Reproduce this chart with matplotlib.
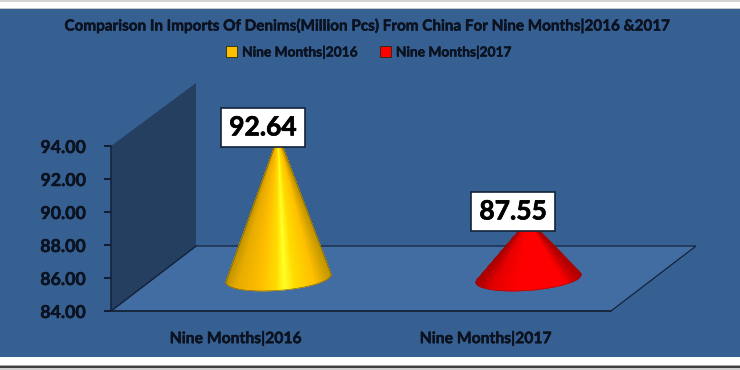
import numpy as np
import matplotlib
matplotlib.use("Agg")
import matplotlib.pyplot as plt
import matplotlib.patheffects as pe
from matplotlib.collections import PolyCollection
from matplotlib.colors import LinearSegmentedColormap
from matplotlib.patches import Patch, Polygon, Rectangle

TITLE = "Comparison In Imports Of Denims(Million Pcs) From China For Nine Months|2016 &2017"
categories = ["Nine Months|2016", "Nine Months|2017"]
values = [92.64, 87.55]
y_ticks = [84, 86, 88, 90, 92, 94]
colors = ["#FFC000", "#FF0000"]

W, H = 740, 370
plt.rcParams["font.family"] = ["Lato", "DejaVu Sans"]
plt.rcParams["font.weight"] = "bold"
INK = "#0B1220"
PANEL = "#376092"
THICK = [pe.withStroke(linewidth=0.35, foreground=INK)]

fig = plt.figure(figsize=(W / 100, H / 100), dpi=100, facecolor="white")
def band(y0, y1, color):
    fig.patches.append(Rectangle((0, 1 - y1 / H), 1, (y1 - y0) / H, transform=fig.transFigure,
                                 facecolor=color, edgecolor="none", zorder=-5))
band(0, 1.5, "#D4D4D4")
band(8, 9, "#C8C8C8")
band(9, 357, PANEL)
band(365, 366, "#A8A8A8")
band(366, 368, "#404040")
band(368, 370, "#D0D0D0")

ax = fig.add_axes([111 / W, 1 - 311 / H, 500 / W, 165 / H])
ax.patch.set_visible(False)
ax.set_xlim(0, 2)
ax.set_ylim(84, 94)
PX, PY = 2 / 500, 10 / 165
DX, DY = 85 * PX, 65 * PY

# floor and side wall
ax.add_patch(Polygon([(0, 84), (2, 84), (2 + DX, 84 + DY), (DX, 84 + DY)], closed=True, clip_on=False,
                     facecolor="#426DA3", edgecolor="#14233A", linewidth=0.9, zorder=1))
ax.add_patch(Polygon([(0, 84), (DX, 84 + DY), (DX, 94 + 63 * PY), (0, 94)], closed=True, clip_on=False,
                     facecolor="#243F60", edgecolor="none", zorder=1.5))
ax.plot([0, DX], [84, 84 + DY], color="#14233A", lw=0.9, zorder=1.6, clip_on=False)

maps = [
    LinearSegmentedColormap.from_list("y", [(0, "#C09400"), (0.1, "#E8AC00"), (0.32, "#FFBE00"), (0.48, "#FFDC00"),
                                            (0.56, "#FFFF28"), (0.66, "#FFDC00"), (0.85, "#FFC000"), (1, "#C49800")]),
    LinearSegmentedColormap.from_list("r", [(0, "#A80000"), (0.14, "#E40000"), (0.4, "#FF0000"), (0.85, "#FF0000"), (1, "#B00000")]),
]

t = np.linspace(-0.3, 2 * np.pi - 0.3, 481)
for i, (v, cmap) in enumerate(zip(values, maps)):
    cx = i + 0.5 + DX / 2
    cy = 84 + DY / 2
    apex = np.array([cx, v + DY / 2])
    # in the y-up data frame the near side of the base is sin(t) < 0
    ex = cx + 50 * PX * np.cos(t) + 16 * PX * np.sin(t)
    ey = cy + 12.5 * PY * np.sin(t)
    pts = np.column_stack([ex, ey])
    slope = ((ex - apex[0]) / PX) / ((apex[1] - ey) / PY)
    l, r = int(np.argmin(slope[:-1])), int(np.argmax(slope[:-1]))
    arc = np.arange(l, r + 1) if l < r else np.r_[l:len(t) - 1, 0:r + 1]
    tris = [[apex, pts[k], pts[k + 1]] for k in arc[:-1]]
    span = ex[arc[:-1]]
    shade = (span - span.min()) / (span.max() - span.min())
    fc = [cmap(s) for s in shade]
    ax.add_collection(PolyCollection(tris, facecolors=fc, edgecolors=fc, linewidths=0.5,
                                     zorder=3, clip_on=False))
    ol = np.vstack([apex, pts[arc], apex])
    ax.plot(ol[:, 0], ol[:, 1], color="#6A5418" if i == 0 else "#8A1818", lw=0.4, zorder=3.5, clip_on=False)
    ax.annotate(f"{v:.2f}", xy=(apex[0], apex[1]), xytext=(-15.5 * 0.72, 8.5 * 0.72), textcoords="offset points",
                ha="center", va="center", fontsize=19, color="#000000", zorder=6, annotation_clip=False,
                path_effects=[pe.withStroke(linewidth=0.5, foreground="#000000")],
                bbox=dict(boxstyle="square,pad=0.3", facecolor="white", edgecolor="#14233A", linewidth=1.2))

ax.set_xticks([0.5, 1.5], categories)
ax.set_yticks(y_ticks, [f"{y:.2f}" for y in y_ticks])
ax.tick_params(axis="x", length=0, pad=14.5, labelsize=11.3, labelcolor=INK)
ax.tick_params(axis="y", length=5, width=1.2, color=INK, pad=13, labelsize=12.8, labelcolor=INK)
for lab in ax.get_xticklabels() + ax.get_yticklabels():
    lab.set_path_effects(THICK)
for s in ("top", "right"):
    ax.spines[s].set_visible(False)
for s in ("left", "bottom"):
    ax.spines[s].set_color("#14233A")
    ax.spines[s].set_linewidth(1.1)
    ax.spines[s].set_zorder(2)

fig.text(367.5 / W, 1 - 26 / H, TITLE, ha="center", va="center", fontsize=10.98, color=INK, path_effects=THICK)
handles = [Patch(facecolor=c, edgecolor="#2A2A10", linewidth=0.6) for c in colors]
leg = fig.legend(handles, categories, loc="center", bbox_to_anchor=(369 / W, 1 - 52 / H), ncols=2, frameon=False,
                 fontsize=9.9, labelcolor=INK, handlelength=0.8, handleheight=0.8, handletextpad=0.35, columnspacing=1.6)
for txt in leg.get_texts():
    txt.set_path_effects(THICK)

fig.savefig("out.png", dpi=100, facecolor=fig.get_facecolor())
